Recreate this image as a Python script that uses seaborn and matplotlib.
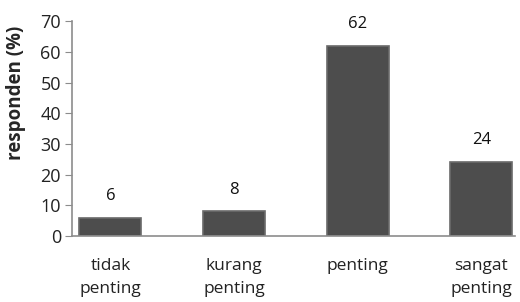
import pandas as pd
import seaborn as sns
import matplotlib.pyplot as plt

kategori = ['tidak\npenting', 'kurang\npenting', 'penting', 'sangat\npenting']
persen = [6, 8, 62, 24]

df = pd.DataFrame({'kategori': kategori, 'persen': persen})

sns.set_style('white')
plt.rcParams['font.family'] = ['Open Sans', 'DejaVu Sans']

fig = plt.figure(figsize=(5.2, 3.02), dpi=100)
ax = fig.add_axes([0.1385, 0.2185, 0.8515, 0.7115])

sns.barplot(x='kategori', y='persen', data=df, color='#4d4d4d', width=0.5,
            edgecolor='#6a6a6a', linewidth=1.2, saturation=1, ax=ax)

# value labels above the bars
for i, v in enumerate(persen):
    ax.annotate(str(v), (i, v), xytext=(0, 10), textcoords='offset points',
                ha='center', va='bottom', fontsize=12, color='#111111')

ax.set_ylim(0, 70)
ax.set_xlim(-0.31, 3.27)
ax.set_yticks(range(0, 71, 10))
ax.set_xlabel('')
ax.set_ylabel('responden (%)', fontsize=13.5, fontweight='bold')
ax.yaxis.set_label_coords(-0.103, 0.665)

for side in ['top', 'right']:
    ax.spines[side].set_visible(False)
for side in ['left', 'bottom']:
    ax.spines[side].set_color('#8c8c8c')
    ax.spines[side].set_linewidth(1.2)

ax.tick_params(axis='y', left=True, length=5, color='#8c8c8c', labelsize=13,
               labelcolor='#222222', pad=3)
ax.tick_params(axis='x', bottom=False, labelsize=12.5, labelcolor='#222222', pad=12)
for lab in ax.get_xticklabels():
    lab.set_linespacing(1.6)

fig.savefig('out.png', dpi=100)
